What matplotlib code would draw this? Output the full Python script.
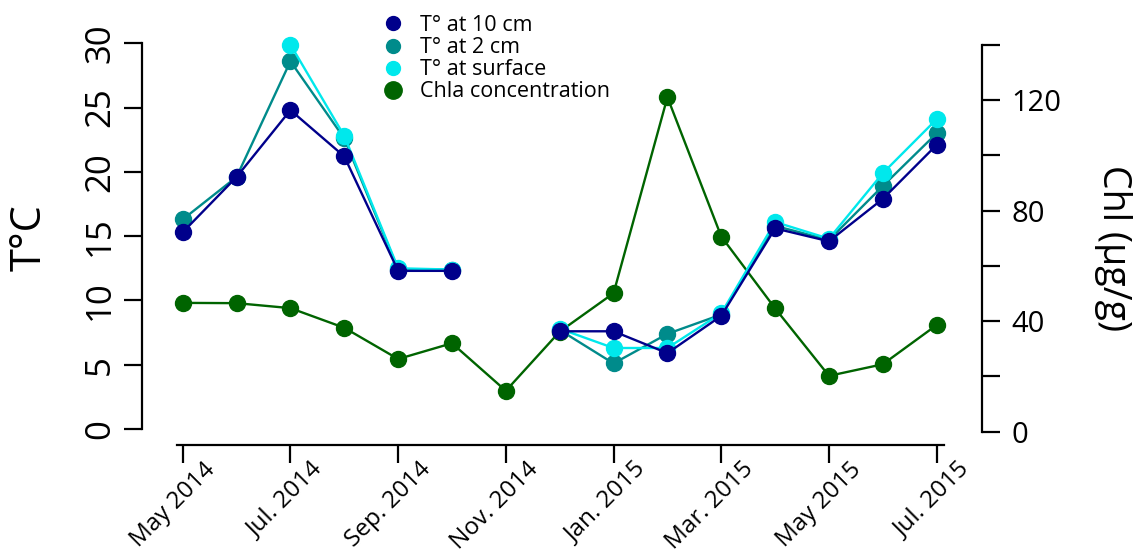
import numpy as np
import matplotlib
matplotlib.use("Agg")
import matplotlib.pyplot as plt
from matplotlib.lines import Line2D
from matplotlib.transforms import ScaledTranslation

# ==========================
# Data (monthly, May 2014 -> Jul 2015)
# ==========================

months = ["May 2014", "Jun. 2014", "Jul. 2014", "Aug. 2014", "Sep. 2014",
          "Oct. 2014", "Nov. 2014", "Dec. 2014", "Jan. 2015", "Feb. 2015",
          "Mar. 2015", "Apr. 2015", "May 2015", "Jun. 2015", "Jul. 2015"]

t_10cm = [15.3, 19.6, 24.8, 21.2, 12.3, 12.3, np.nan, 7.6, 7.6, 5.9,
          8.8, 15.6, 14.6, 17.9, 22.1]
t_2cm = [16.3, 19.6, 28.6, 22.6, 12.4, 12.4, np.nan, 7.7, 5.1, 7.4,
         8.9, 15.8, 14.7, 18.9, 23.0]
t_surface = [np.nan, np.nan, 29.9, 22.8, 12.5, 12.4, np.nan, 7.8, 6.3, 6.3,
             9.0, 16.1, 14.8, 19.9, 24.1]
chla = [46.6, 46.5, 44.7, 37.6, 26.3, 32.0, 14.8, 36.2, 50.1, 121.0,
        70.6, 44.6, 20.2, 24.4, 38.6]

tick_idx = [0, 2, 4, 6, 8, 10, 12, 14]
tick_labels = ["May 2014", "Jul. 2014", "Sep. 2014", "Nov. 2014",
               "Jan. 2015", "Mar. 2015", "May 2015", "Jul. 2015"]

# ==========================
# Figure
# ==========================

plt.rcParams["font.family"] = ["Open Sans", "DejaVu Sans"]

W, H = 1137, 557
fig = plt.figure(figsize=(W / 100, H / 100), dpi=100)

left, right, bottom, top = 142, 982, 445, 20
ax = fig.add_axes([left / W, 1 - bottom / H, (right - left) / W, (bottom - top) / H])
ax2 = ax.twinx()

# temperature axes above chla axes
ax.set_zorder(ax2.get_zorder() + 1)
ax.patch.set_visible(False)

x = np.arange(len(months))

c_navy = "#00008B"
c_teal = "#008B8B"
c_cyan = "#00E8EC"
c_green = "#006400"

ms = 11.5
lw = 1.7

ax2.plot(x, chla, color=c_green, lw=lw, marker="o", ms=ms, clip_on=False)

ax.plot(x, t_2cm, color=c_teal, lw=lw, marker="o", ms=ms, clip_on=False)
ax.plot(x, t_surface, color=c_cyan, lw=lw, marker="o", ms=ms, clip_on=False)
ax.plot(x, t_10cm, color=c_navy, lw=lw, marker="o", ms=ms, clip_on=False)

# ==========================
# Axes styling (R-like)
# ==========================

ax.set_xlim(-0.7557, 14.841)
ax.set_ylim(-1.244, 31.81)
ax2.set_ylim(-4.81, 148.93)

for s in ["top", "right"]:
    ax.spines[s].set_visible(False)
for s in ["top", "left", "bottom"]:
    ax2.spines[s].set_visible(False)

ax.spines["left"].set_bounds(0, 30)
ax.spines["bottom"].set_bounds(-0.11, 14.13)
ax2.spines["right"].set_bounds(0, 140)
for sp in [ax.spines["left"], ax.spines["bottom"], ax2.spines["right"]]:
    sp.set_linewidth(1.6)

ax.set_yticks([0, 5, 10, 15, 20, 25, 30])
ax.tick_params(axis="y", length=13, width=1.6, pad=5, labelsize=25)
for lab in ax.get_yticklabels():
    lab.set_rotation(90)
    lab.set_va("center")

ax2.set_yticks(range(0, 141, 20))
ax2.set_yticklabels(["0", "", "40", "", "80", "", "120", ""])
ax2.tick_params(axis="y", length=13, width=1.6, pad=8, labelsize=21)

ax.set_xticks(tick_idx)
ax.set_xticklabels(tick_labels, rotation=45, ha="right", va="center",
                   rotation_mode="anchor")
ax.tick_params(axis="x", length=13, width=1.6, pad=0, labelsize=17.5)
offset = ScaledTranslation(29 / 100, -3 / 100, fig.dpi_scale_trans)
for lab in ax.get_xticklabels():
    lab.set_transform(lab.get_transform() + offset)

# axis titles
fig.text(30 / W, 1 - 238 / H, "T°C", rotation=90, ha="center", va="center",
         fontsize=30)
fig.text(1113 / W, 1 - 248 / H, "Chl (µg/g)", rotation=270, ha="center",
         va="center", fontsize=27)

# ==========================
# Legend
# ==========================

handles = [
    Line2D([], [], ls="none", marker="o", ms=10, color=c_navy),
    Line2D([], [], ls="none", marker="o", ms=10, color=c_teal),
    Line2D([], [], ls="none", marker="o", ms=10, color=c_cyan),
    Line2D([], [], ls="none", marker="o", ms=12.5, color=c_green),
]
names = ["T° at 10 cm", "T° at 2 cm", "T° at surface", "Chla concentration"]
fig.legend(handles, names, loc="upper left", bbox_to_anchor=(382 / W, 1 - 15 / H),
           frameon=False, fontsize=15.5, handlelength=1.0, handletextpad=0.75,
           labelspacing=0.05, borderpad=0, borderaxespad=0)

plt.savefig("out.png", dpi=100)
